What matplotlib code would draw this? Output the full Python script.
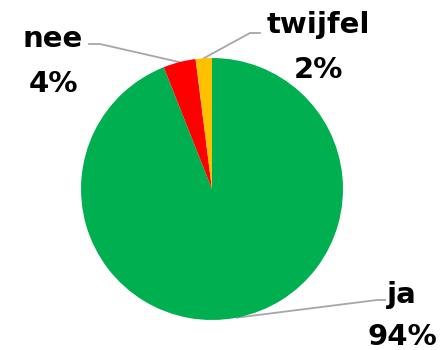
import numpy as np
import matplotlib
matplotlib.use('Agg')
import matplotlib.pyplot as plt

# Data
labels = ['ja', 'nee', 'twijfel']
values = [94, 4, 2]
colors = ['#00B050', '#FF0000', '#FFC000']

W, H = 442, 350
fig = plt.figure(figsize=(W / 100, H / 100), dpi=100)
ax = fig.add_axes([0, 0, 1, 1])

cx, cy, r = 212, H - 189, 131
wedges, _ = ax.pie(values, colors=colors, startangle=90, counterclock=False,
                   center=(cx, cy), radius=r, frame=True,
                   wedgeprops=dict(linewidth=0))
ax.set_xlim(0, W)
ax.set_ylim(0, H)
ax.set_aspect('equal')
ax.axis('off')

# label layout: (elbow x, elbow y, end x, text x, name baseline y, pct baseline y)
layout = {
    'nee': (100, H - 44, 89, 53, H - 47, H - 92),
    'twijfel': (250, H - 33, 260, 318, H - 33, H - 78),
    'ja': (377, H - 300, 385, 402, H - 303, H - 345),
}

font = dict(fontsize=21, fontweight='bold', family='DejaVu Sans')
for w, lab, v in zip(wedges, labels, values):
    ang = np.deg2rad((w.theta1 + w.theta2) / 2)
    ax_, ay_ = cx + r * np.cos(ang), cy + r * np.sin(ang)
    ex, ey, endx, tx, ny, py = layout[lab]
    ax.plot([ax_, ex, endx], [ay_, ey, ey], color='#A6A6A6', lw=1.3, zorder=0.5)
    ax.text(tx, ny, lab, ha='center', va='baseline', **font)
    ax.text(tx, py, f'{v}%', ha='center', va='baseline', **font)

fig.savefig('out.png', dpi=100)
